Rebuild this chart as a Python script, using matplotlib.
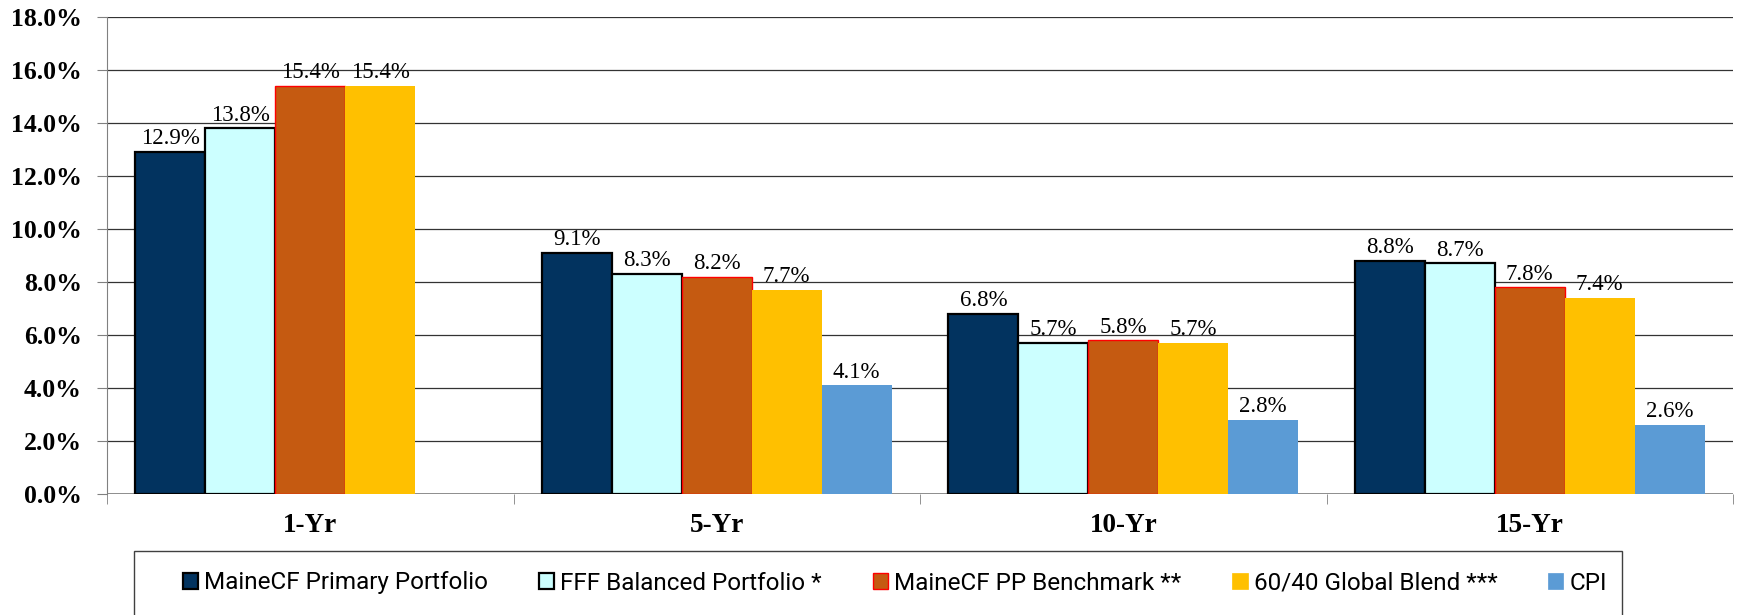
import numpy as np
import matplotlib
matplotlib.use('Agg')
from matplotlib import pyplot as plt
from matplotlib.patches import Patch, Rectangle

# trailing returns by period
periods = ['1-Yr', '5-Yr', '10-Yr', '15-Yr']
primary = [12.9, 9.1, 6.8, 8.8]
fff_balanced = [13.8, 8.3, 5.7, 8.7]
pp_benchmark = [15.4, 8.2, 5.8, 7.8]
global_blend = [15.4, 7.7, 5.7, 7.4]
cpi = [np.nan, 4.1, 2.8, 2.6]

names = ['MaineCF Primary Portfolio', 'FFF Balanced Portfolio *',
         'MaineCF PP Benchmark **', '60/40 Global Blend ***', 'CPI']
series = [primary, fff_balanced, pp_benchmark, global_blend, cpi]
colors = ['#02335F', '#CCFFFF', '#C55A11', '#FFC000', '#5B9BD5']
edges = ['black', 'black', '#FF0000', '#FFC000', '#5B9BD5']
lws = [1.6, 1.6, 1.0, 0, 0]

W, H = 1737, 615
fig = plt.figure(figsize=(W / 100, H / 100), dpi=100)
ax = fig.add_axes([107 / W, 1 - 494 / H, (1733 - 107) / W, (494 - 17) / H])

x = np.arange(len(periods))
bw = 0.172
for i, (vals, c, ec, lw) in enumerate(zip(series, colors, edges, lws)):
    pos = x + (i - 2) * bw
    ax.bar(pos, vals, bw, color=c, edgecolor=ec, linewidth=lw, zorder=3)
    for p, v in zip(pos, vals):
        if not np.isnan(v):
            ax.text(p, v + 0.1, f'{v:.1f}%', ha='center', va='bottom',
                    fontsize=16.5, family='Liberation Serif', zorder=4)

ax.set_xlim(-0.5, 3.5)
ax.set_ylim(0, 18)
ax.set_yticks(np.arange(0, 18.1, 2))
ax.set_yticklabels([f'{v:.1f}%' for v in np.arange(0, 18.1, 2)],
                   family='Liberation Serif', fontweight='bold', fontsize=18.5)
ax.set_xticks(x)
ax.set_xticklabels(periods, family='Liberation Serif', fontweight='bold', fontsize=19.5)
ax.set_xticks(np.arange(-0.5, 4, 1), minor=True)
ax.tick_params(axis='x', which='major', length=0, pad=14)
ax.tick_params(axis='x', which='minor', length=7, color='#808080', direction='out')
ax.tick_params(axis='y', length=7, color='#808080', pad=11)

ax.yaxis.grid(True, color='#333333', linewidth=0.9, zorder=0)
for s in ['top', 'right', 'bottom']:
    ax.spines[s].set_visible(False)
ax.spines['left'].set_color('#808080')
ax.axhline(0, color='#808080', linewidth=1.2, zorder=2)

# legend box
fig.patches.append(Rectangle((134 / W, -0.02), (1622 - 134) / W, 1 - 551 / H + 0.02,
                             transform=fig.transFigure, fill=False,
                             edgecolor='#404040', linewidth=1.0))
handles = [Patch(facecolor=c, edgecolor=ec if lw else c, linewidth=max(lw, 0.5))
           for c, ec, lw in zip(colors, edges, lws)]
fig.legend(handles, names, loc='center left', bbox_to_anchor=(183 / W, 1 - 583 / H),
           ncol=5, frameon=False, borderpad=0, borderaxespad=0,
           prop={'family': ['Roboto', 'DejaVu Sans'], 'size': 17.5},
           handlelength=0.62, handleheight=0.62, handletextpad=0.25, columnspacing=2.1)

fig.savefig('out.png', dpi=100)
